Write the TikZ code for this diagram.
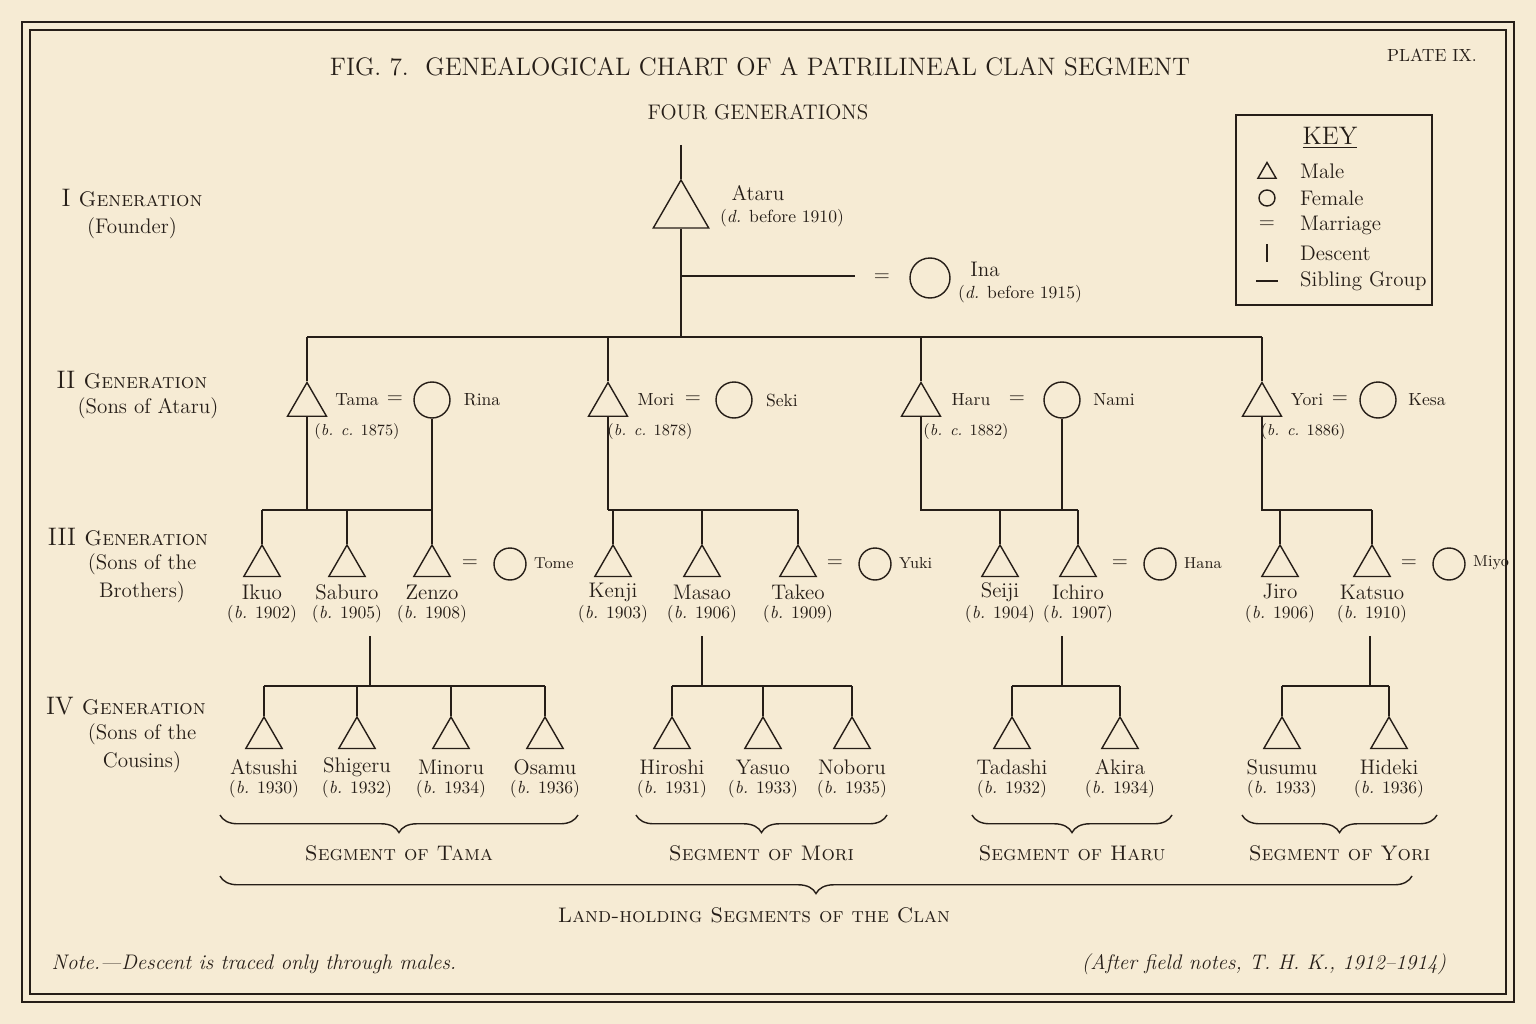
\documentclass[tikz,border=0pt]{standalone}
\usepackage{xcolor}
\definecolor{PaperColor}{RGB}{246,235,212}
\definecolor{InkColor}{RGB}{38,30,24}
\usetikzlibrary{shapes.geometric, decorations.pathreplacing}

\begin{document}
\begin{tikzpicture}[
    x=0.02cm, y=-0.02cm,
    every node/.style={text=InkColor},
    ink/.style={draw=InkColor, line width=0.8pt},
    male/.style={ink, regular polygon, regular polygon sides=3, inner sep=0pt, minimum size=0.84cm},
    female/.style={ink, circle, inner sep=0pt, minimum size=0.64cm},
    pname/.style={font=\large},
    pborn/.style={font=\normalsize},
    genlabel/.style={font=\Large, align=center},
    seglabel/.style={font=\large},
    brace/.style={ink, decorate, decoration={brace, mirror, amplitude=10pt}},
]

% Paper and frame
\fill[PaperColor] (0,0) rectangle (1536,1024);
\useasboundingbox (0,0) rectangle (1536,1024);
\draw[ink, line width=1.4pt] (22,22) rectangle (1514,1002);
\draw[ink] (30,30) rectangle (1506,994);

% Titles
\node[font=\Large] (title) at (760,67) {FIG. 7.\ \ GENEALOGICAL CHART OF A PATRILINEAL CLAN SEGMENT};
\node[font=\normalsize] (plate) at (1432,55) {PLATE IX.};
\node[font=\large] (subtitle) at (758,112) {FOUR GENERATIONS};

% Generation labels
\node[genlabel] (g1) at (132,198) {I \textsc{\large Generation}};
\node[font=\large] (g1b) at (132,228) {(Founder)};
\node[genlabel] (g2) at (132,380) {II \textsc{\large Generation}};
\node[font=\large] (g2b) at (148,408) {(Sons of Ataru)};
\node[genlabel] (g3) at (128,537) {III \textsc{\large Generation}};
\node[font=\large, align=center] (g3b) at (142,578) {(Sons of the\\[2pt] Brothers)};
\node[genlabel] (g4) at (126,706) {IV \textsc{\large Generation}};
\node[font=\large, align=center] (g4b) at (142,748) {(Sons of the\\[2pt] Cousins)};

% Key
\draw[ink] (1236,115) rectangle (1432,305);
\node[font=\Large] (keyttl) at (1330,138) {\underline{KEY}};
\node[male, minimum size=0.42cm] (kmale) at (1267,173) {};
\node[female, minimum size=0.32cm] (kfem) at (1267,198) {};
\node[font=\large] (kmar) at (1267,225) {=};
\coordinate (kd1) at (1267,244); \coordinate (kd2) at (1267,262);
\draw[ink] (kd1) -- (kd2);
\coordinate (ks1) at (1256,281); \coordinate (ks2) at (1278,281);
\draw[ink] (ks1) -- (ks2);
\foreach \t/\y in {Male/171, Female/198, Marriage/225, Descent/253, Sibling Group/281}
    \node[font=\large, anchor=west] at (1294,\y) {\t};

% I Generation
\node[male, minimum size=1.28cm] (ataru) at (681,212) {};
\coordinate (atop) at (681,145);
\draw[ink] (atop) -- (ataru.north);
\node[pname] (ataru-name) at (758,193) {Ataru};
\node[pborn] (ataru-b) at (782,218) {(\textit{d.} before 1910)};
\node[female, minimum size=0.8cm] (ina) at (930,278) {};
\node[font=\large] (ina-eq) at (882,278) {=};
\node[pname] (ina-name) at (985,269) {Ina};
\node[pborn] (ina-b) at (1020,294) {(\textit{d.} before 1915)};
\coordinate (amar) at (681,276); \coordinate (amar2) at (855,276);
\draw[ink] (amar) -- (amar2);
\coordinate (sib1) at (681,337);
\draw[ink] (ataru.south) -- (sib1);

% II Generation
\foreach \n/\x/\t/\nx/\ex/\w/\wx/\wt/\wn/\b/\bx in {
        tama/307/Tama/357/395/rina/432/Rina/482/1875/357,
        mori/608/Mori/656/693/seki/734/Seki/782/1878/650,
        haru/921/Haru/971/1017/nami/1062/Nami/1114/1882/966,
        yori/1262/Yori/1307/1340/kesa/1378/Kesa/1427/1886/1303} {
    \node[male, minimum size=0.9cm] (\n) at (\x,405) {};
    \node[font=\normalsize] (\n-name) at (\nx,400) {\t};
    \node[font=\large] (\n-eq) at (\ex,400) {=};
    \node[female, minimum size=0.72cm] (\w) at (\wx,400) {};
    \node[font=\normalsize] (\w-name) at (\wn,400) {\wt};
    \node[font=\small] (\n-b) at (\bx,432) {(\textit{b. c.} \b)};
    \coordinate (\n-top) at (\x,337);
    \draw[ink] (\n-top) -- (\n.north);
}
\draw[ink] (tama-top) -- (yori-top);

% III Generation
\foreach \n/\x/\t/\b in {ikuo/262/Ikuo/1902, saburo/347/Saburo/1905, zenzo/432/Zenzo/1908,
        kenji/613/Kenji/1903, masao/702/Masao/1906, takeo/798/Takeo/1909,
        seiji/1000/Seiji/1904, ichiro/1078/Ichiro/1907,
        jiro/1280/Jiro/1906, katsuo/1372/Katsuo/1910} {
    \node[male] (\n) at (\x,566) {};
    \node[pname] (\n-name) at (\x,592) {\t};
    \node[pborn] (\n-b) at (\x,614) {(\textit{b.} \b)};
    \coordinate (\n-top) at (\x,510);
    \draw[ink] (\n-top) -- (\n.north);
}
% wives of the III generation
\foreach \w/\x/\wt in {tome/510/Tome, yuki/875/Yuki, hana/1160/Hana, miyo/1449/Miyo} {
    \node[female, minimum size=0.64cm] (\w) at (\x,564) {};
    \node[font=\small, anchor=west] (\w-name) at (\x+18,563) {\wt};
    \node[font=\large] (\w-eq) at (\x-40,564) {=};
}
% descent lines to the III generation
\coordinate (tama-d) at (307,510); \coordinate (rina-d) at (432,510);
\draw[ink] (tama.south) -- (tama-d);
\draw[ink] (rina.south) -- (rina-d);
\draw[ink] (ikuo-top) -- (zenzo-top);
\coordinate (mori-d) at (608,510);
\draw[ink] (mori.south) -- (mori-d);
\draw[ink] (mori-d) -- (takeo-top);
\coordinate (haru-d) at (921,510); \coordinate (nami-d) at (1062,510);
\draw[ink] (haru.south) -- (haru-d) -- (ichiro-top);
\draw[ink] (nami.south) -- (nami-d);
\coordinate (yori-d) at (1262,510);
\draw[ink] (yori.south) -- (yori-d) -- (katsuo-top);

% IV Generation
\foreach \n/\x/\t/\b in {atsushi/264/Atsushi/1930, shigeru/357/Shigeru/1932,
        minoru/451/Minoru/1934, osamu/545/Osamu/1936,
        hiroshi/672/Hiroshi/1931, yasuo/763/Yasuo/1933, noboru/852/Noboru/1935,
        tadashi/1012/Tadashi/1932, akira/1120/Akira/1934,
        susumu/1282/Susumu/1933, hideki/1389/Hideki/1936} {
    \node[male] (\n) at (\x,738) {};
    \node[pname] (\n-name) at (\x,767) {\t};
    \node[pborn] (\n-b) at (\x,789) {(\textit{b.} \b)};
    \coordinate (\n-top) at (\x,686);
    \draw[ink] (\n-top) -- (\n.north);
}
\foreach \a/\b/\x in {atsushi/osamu/370, hiroshi/noboru/702, tadashi/akira/1062, susumu/hideki/1370} {
    \coordinate (\a-up) at (\x,636);
    \coordinate (\a-dn) at (\x,686);
    \draw[ink] (\a-up) -- (\a-dn);
    \draw[ink] (\a-top) -- (\b-top);
}

% Segment braces
\foreach \s/\l/\r/\t in {tama/220/578/Tama, mori/636/887/Mori, haru/972/1172/Haru, yori/1242/1437/Yori} {
    \coordinate (\s-bl) at (\l,815);
    \coordinate (\s-br) at (\r,815);
    \draw[brace] (\s-bl) -- (\s-br);
    \node[seglabel] (\s-seg) at ({(\l+\r)/2},853) {\textsc{Segment of \t}};
}
\coordinate (clan-bl) at (220,876); \coordinate (clan-br) at (1412,876);
\draw[brace] (clan-bl) -- (clan-br);
\node[seglabel] (clan) at (754,915) {\textsc{Land-holding Segments of the Clan}};

% Notes
\node[font=\large\itshape] (note) at (254,964) {Note.---Descent is traced only through males.};
\node[font=\large\itshape] (after) at (1264,964) {(After field notes, T. H. K., 1912--1914)};

\end{tikzpicture}
\end{document}
